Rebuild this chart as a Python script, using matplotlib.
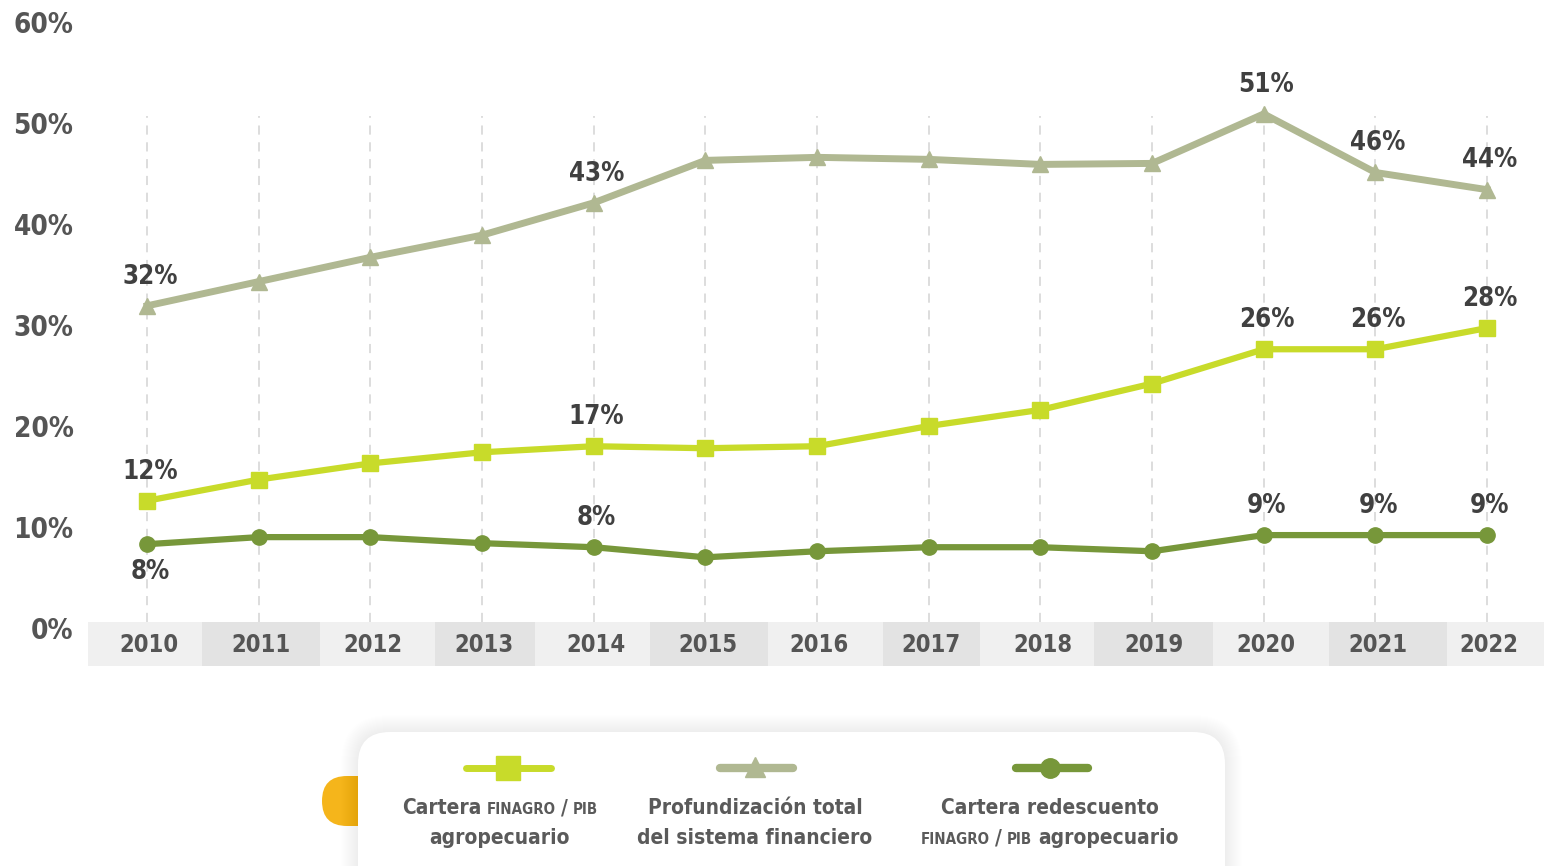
import matplotlib
matplotlib.use("Agg")
import matplotlib.pyplot as plt
from matplotlib.patches import FancyBboxPatch

# data (percent)
years = list(range(2010, 2023))
profundizacion = [31.9, 34.3, 36.7, 38.9, 42.1, 46.3, 46.6, 46.4, 45.9, 46.0, 50.9, 45.1, 43.4]
cartera = [12.6, 14.7, 16.3, 17.4, 18.0, 17.8, 18.0, 20.0, 21.6, 24.2, 27.6, 27.6, 29.7]
redescuento = [8.3, 9.0, 9.0, 8.4, 8.0, 7.0, 7.6, 8.0, 8.0, 7.6, 9.2, 9.2, 9.2]

prof_labels = {2010: "32%", 2014: "43%", 2020: "51%", 2021: "46%", 2022: "44%"}
cart_labels = {2010: "12%", 2014: "17%", 2020: "26%", 2021: "26%", 2022: "28%"}
red_labels = {2010: "8%", 2014: "8%", 2020: "9%", 2021: "9%", 2022: "9%"}

yticks = [0, 10, 20, 30, 40, 50, 60]
ytick_labels = ["0%", "10%", "20%", "30%", "40%", "50%", "60%"]

c_prof = "#b0b892"
c_cart = "#c8db2a"
c_red = "#77973a"
c_text = "#555555"
c_lab = "#404040"

plt.rcParams["font.family"] = ["DejaVu Sans"]
plt.rcParams["font.stretch"] = "condensed"

W, H = 1544, 866
fig = plt.figure(figsize=(W / 100, H / 100), dpi=100)
ax = fig.add_axes([88 / W, (H - 666) / H, (W - 88) / W, (666 - 22) / H])
ax.set_xlim(2009.47, 2022.51)
ax.set_ylim(-3.76, 60)
for s in ax.spines.values():
    s.set_visible(False)

# alternating year bands under the axis
edges = [2009.47, 2010.49, 2011.55, 2012.58, 2013.47, 2014.50, 2015.56,
         2016.59, 2017.46, 2018.48, 2019.55, 2020.58, 2021.64, 2022.51]
for i in range(len(years)):
    col = "#f0f0f0" if i % 2 == 0 else "#e3e3e3"
    ax.fill_between([edges[i], edges[i + 1]], -3.76, 0.6, color=col, lw=0, zorder=0)
    ax.text(years[i] + 0.02, -1.7, str(years[i]), ha="center", va="center",
            fontsize=17, fontweight="bold", color=c_text)

ax.vlines(years, 0.6, 50.7, colors="#d3d3d3", linestyles=(0, (6, 5)), lw=1.1, zorder=1)

ax.set_xticks([])
ax.set_yticks(yticks)
ax.set_yticklabels(ytick_labels, fontsize=20, fontweight="bold", color=c_text)
ax.tick_params(axis="y", length=0, pad=10.5)

ax.plot(years, profundizacion, color=c_prof, lw=5, marker="^", ms=12, zorder=3)
ax.plot(years, cartera, color=c_cart, lw=4.5, marker="s", ms=11, zorder=3)
ax.plot(years, redescuento, color=c_red, lw=4.5, marker="o", ms=11, zorder=3)

def put_labels(values, labels, dy):
    for yr, txt in labels.items():
        v = values[years.index(yr)]
        ax.annotate(txt, (yr, v), xytext=(2, dy), textcoords="offset points",
                    ha="center", va="center", fontsize=18.5, fontweight="bold",
                    color=c_lab, zorder=4)

put_labels(profundizacion, prof_labels, 21)
put_labels(cartera, cart_labels, 21)
put_labels(redescuento, {k: v for k, v in red_labels.items() if k != 2010}, 21)
put_labels(redescuento, {2010: red_labels[2010]}, -20)

# legend panel drawn in pixel space
ov = fig.add_axes([0, 0, 1, 1], zorder=5)
ov.set_xlim(0, W)
ov.set_ylim(H, 0)
ov.axis("off")

ov.add_patch(FancyBboxPatch((322, 776), 70, 50, boxstyle="round,pad=0,rounding_size=25",
                            fc="#f5b51b", ec="none", zorder=1))
for i in range(1, 18):
    ov.add_patch(FancyBboxPatch((358 - i, 732 - i), 867 + 2 * i, 200,
                                boxstyle="round,pad=0,rounding_size=%d" % (32 + i),
                                fc="black", ec="none", alpha=0.0045, zorder=2))
ov.add_patch(FancyBboxPatch((358, 732), 867, 200, boxstyle="round,pad=0,rounding_size=32",
                            fc="white", ec="none", zorder=3))

ov.plot([466, 551], [768, 768], color=c_cart, lw=5, solid_capstyle="round", zorder=4)
ov.plot([508], [768], marker="s", ms=17, color=c_cart, zorder=5)
ov.plot([720, 793], [768, 768], color=c_prof, lw=6, solid_capstyle="round", zorder=4)
ov.plot([755], [767], marker="^", ms=14, color=c_prof, zorder=5)
ov.plot([1016, 1088], [768, 768], color=c_red, lw=6, solid_capstyle="round", zorder=4)
ov.plot([1050], [768], marker="o", ms=14, color=c_red, zorder=5)

renderer = fig.canvas.get_renderer()

def rich_line(cx, y, parts):
    objs = []
    for txt, size, gap in parts:
        t = ov.text(0, y, txt, fontsize=size, color="#5a5a5a", ha="left", va="baseline",
                    fontweight="bold", zorder=6)
        objs.append((t, gap))
    widths = [t.get_window_extent(renderer).width for t, g in objs]
    total = sum(widths) + sum(g for t, g in objs[:-1])
    x = cx - total / 2
    for (t, g), w in zip(objs, widths):
        t.set_x(x)
        x += w + g

big, small = 15, 10.8
rich_line(500, 814, [("Cartera", big, 6), ("FINAGRO", small, 5), ("/", big, 5), ("PIB", small, 0)])
rich_line(500, 844, [("agropecuario", big, 0)])
rich_line(755, 814, [("Profundización total", big, 0)])
rich_line(755, 844, [("del sistema financiero", big, 0)])
rich_line(1050, 814, [("Cartera redescuento", big, 0)])
rich_line(1050, 844, [("FINAGRO", small, 5), ("/", big, 5), ("PIB", small, 6), ("agropecuario", big, 0)])

fig.savefig("out.png", dpi=100)
